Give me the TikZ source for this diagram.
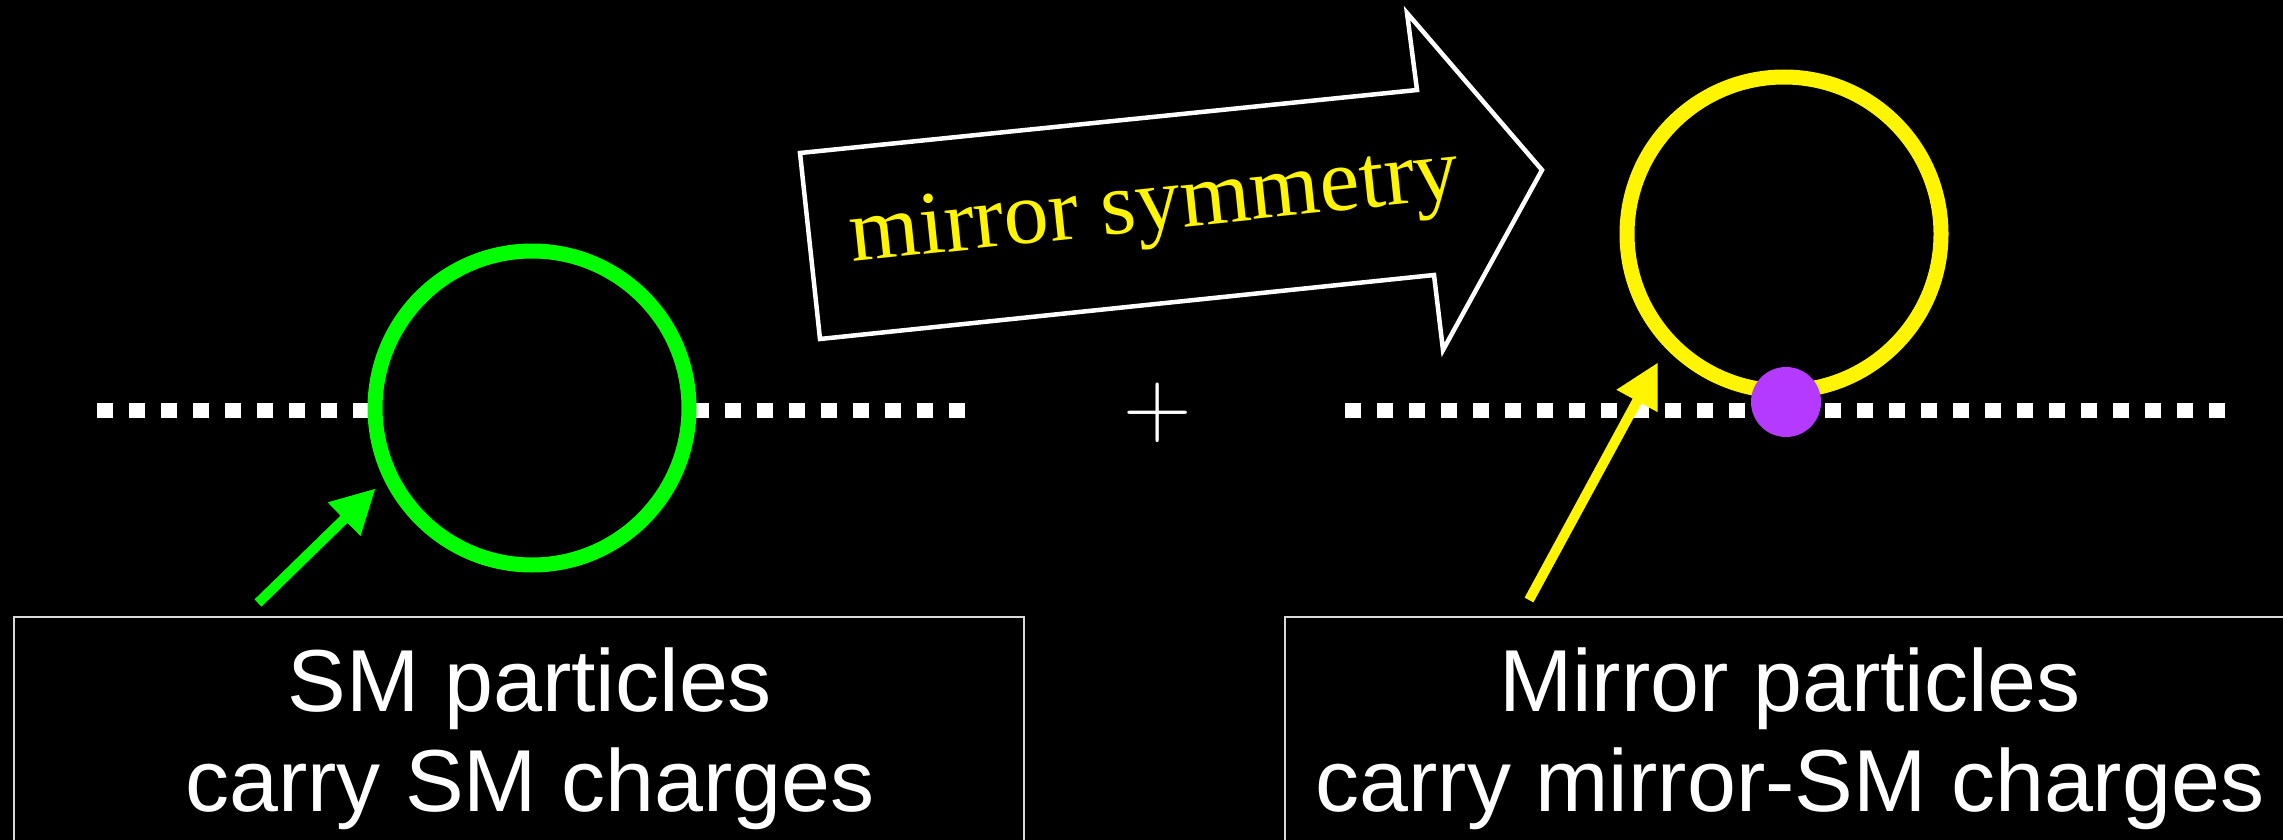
\documentclass[tikz,border=0pt]{standalone}
\usepackage{fontspec}
\newfontfamily\boxfont{Liberation Sans}
\newfontfamily\arrowfont{Liberation Serif}
\usetikzlibrary{arrows.meta}
\definecolor{mygreen}{RGB}{0,255,0}
\definecolor{myyellow}{RGB}{255,245,0}
\definecolor{mypurple}{RGB}{180,58,255}
\begin{document}
\begin{tikzpicture}[x=1pt,y=-1pt,
  ring/.style={circle, draw, line width=15pt, minimum size=314pt, inner sep=0pt},
  dotline/.style={draw=white, line width=15pt, dash pattern=on 16pt off 16pt},
  pointer/.style={line width=10pt, -{Triangle[length=44pt,width=44pt]}},
  labelbox/.style={draw=white!85!black, line width=2pt, minimum width=1010pt, minimum height=244pt, align=center, text=white, font=\boxfont\fontsize{88}{100}\selectfont, inner sep=0pt},
  bigarrow/.style={draw=white, line width=4.5pt, fill=black, line join=miter}
]
\fill[black] (0,0) rectangle (2283,840);
\useasboundingbox (0,0) rectangle (2283,840);
\clip (0,0) rectangle (2283,840);

% dotted lines
\coordinate (l1) at (97,410);
\coordinate (l2) at (369,410);
\coordinate (l3) at (693,410);
\coordinate (l4) at (965,410);
\coordinate (r1) at (1345,410);
\coordinate (r2) at (2225,410);
\draw[dotline] (l1) -- (l2);
\draw[dotline] (l3) -- (l4);
\draw[dotline] (r1) -- (r2);

% rings
\node[ring, draw=mygreen] (gc) at (532,408) {};
\node[ring, draw=myyellow] (yc) at (1784,234) {};
\node[circle, fill=mypurple, minimum size=70pt, inner sep=0pt] (dot) at (1786,402) {};

% plus
\node[text=white, font=\fontsize{95}{95}\selectfont, inner sep=0pt] (plus) at (1158,413) {+};

% big arrow
\draw[bigarrow] (800,153) -- (1417,90) -- (1407,13) -- (1542,170) -- (1443,350) -- (1434,275) -- (820,339) -- cycle;
\node[text=myyellow, rotate=6, font=\arrowfont\fontsize{90}{95}\selectfont, inner sep=0pt] (mirror) at (1155,210) {mirror symmetry};

% boxes
\node[labelbox] (lbox) at (519,739) {\hspace*{22pt}SM particles\\\hspace*{22pt}carry SM charges};
\node[labelbox] (rbox) at (1790,739) {Mirror particles\\carry mirror-SM charges};

% pointers
\coordinate (gtail) at (258,603);
\coordinate (ytail) at (1529,600);
\draw[pointer, color=mygreen, shorten >=12pt] (gtail) -- (gc.206.6);
\draw[pointer, color=myyellow, shorten >=16pt] (ytail) -- (yc.224.3);
\end{tikzpicture}
\end{document}
